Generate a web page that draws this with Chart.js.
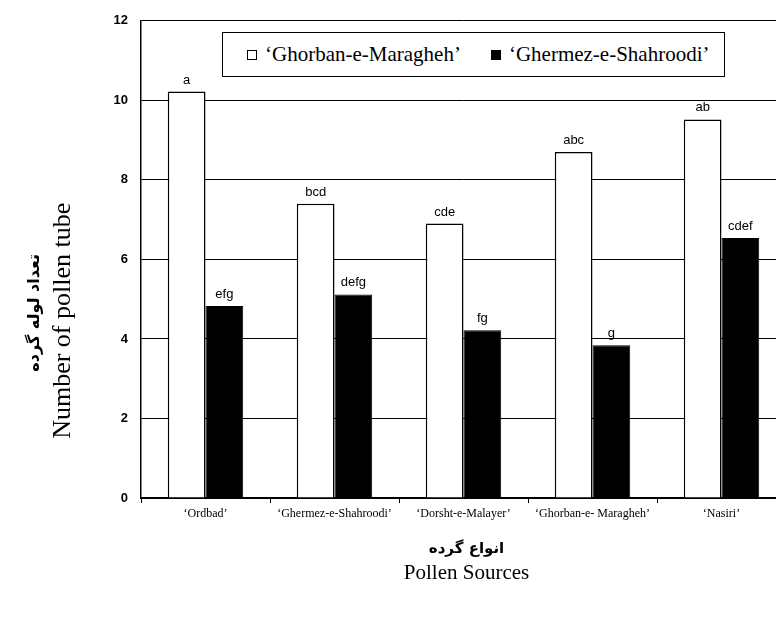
<!DOCTYPE html>
<html>
<head>
<meta charset="utf-8">
<script src="https://cdn.jsdelivr.net/npm/chart.js@4.4.0/dist/chart.umd.min.js"></script>
<style>
    html, body { margin: 0; padding: 0; background: #fff; overflow: hidden; }
    #wrap { position: relative; width: 776px; height: 617px; overflow: hidden; }
    #chart { position: absolute; left: 0; top: 0; }
    #legend {
        position: absolute; left: 222px; top: 32px; width: 477px; height: 43px;
        border: 1.5px solid #000; background: #fff;
        display: flex; align-items: center; padding-left: 24px; box-sizing: content-box;
        font-family: "Liberation Serif", "Times New Roman", serif; font-size: 21px; color: #000;
    }
    #legend .item { display: flex; align-items: center; margin-right: 30px; white-space: nowrap; }
    #legend .box { width: 8px; height: 8px; border: 1.5px solid #000; margin-right: 8px; }
</style>
</head>
<body>
<div id="wrap">
    <canvas id="chart" width="800" height="617"></canvas>
    <div id="legend"></div>
</div>
<script>
// Pollen tube counts per pollen source

const categories = ['\u2018Ordbad\u2019', '\u2018Ghermez-e-Shahroodi\u2019', '\u2018Dorsht-e-Malayer\u2019', '\u2018Ghorban-e- Maragheh\u2019', '\u2018Nasiri\u2019'];
const seriesNames = ['\u2018Ghorban-e-Maragheh\u2019', '\u2018Ghermez-e-Shahroodi\u2019'];
const ghorbanValues = [10.22, 7.40, 6.90, 8.70, 9.52];
const ghermezValues = [4.83, 5.12, 4.22, 3.84, 6.54];
const ghorbanLetters = ['a', 'bcd', 'cde', 'abc', 'ab'];
const ghermezLetters = ['efg', 'defg', 'fg', 'g', 'cdef'];
const yTicks = [0, 2, 4, 6, 8, 10, 12];
const yTitle = ['\u062A\u0639\u062F\u0627\u062F \u0644\u0648\u0644\u0647 \u06AF\u0631\u062F\u0647', 'Number of pollen tube'];
const xTitle = ['\u0627\u0646\u0648\u0627\u0639 \u06AF\u0631\u062F\u0647', 'Pollen Sources'];

const letters = [ghorbanLetters, ghermezLetters];

// Letters of significance above each bar
const letterPlugin = {
    id: 'letters',
    afterDatasetsDraw(chart) {
        const ctx = chart.ctx;
        ctx.save();
        ctx.fillStyle = '#000';
        ctx.font = '13px "Liberation Sans", Arial, sans-serif';
        ctx.textAlign = 'center';
        ctx.textBaseline = 'bottom';
        chart.data.datasets.forEach((ds, i) => {
            chart.getDatasetMeta(i).data.forEach((bar, j) => {
                ctx.fillText(letters[i][j], bar.x, bar.y - 5);
            });
        });
        ctx.restore();
    }
};

// Two-line axis titles (Persian + English)
const axisTitlePlugin = {
    id: 'axisTitles',
    afterDraw(chart) {
        const ctx = chart.ctx;
        const area = chart.chartArea;
        ctx.save();
        ctx.fillStyle = '#000';
        ctx.textAlign = 'center';
        ctx.textBaseline = 'middle';

        // y title, rotated
        ctx.save();
        ctx.translate(area.left - 106, area.top + 292);
        ctx.rotate(-Math.PI / 2);
        ctx.font = 'bold 16px "DejaVu Sans", sans-serif';
        ctx.fillText(yTitle[0], 0, 0);
        ctx.restore();
        ctx.save();
        ctx.translate(area.left - 78, area.top + 300);
        ctx.rotate(-Math.PI / 2);
        ctx.font = '26px "Liberation Serif", "Times New Roman", serif';
        ctx.fillText(yTitle[1], 0, 0);
        ctx.restore();

        // x title
        const cx = (area.left + area.right) / 2;
        ctx.font = 'bold 15px "DejaVu Sans", sans-serif';
        ctx.fillText(xTitle[0], cx + 3, area.bottom + 51);
        ctx.font = '21px "Liberation Serif", "Times New Roman", serif';
        ctx.fillText(xTitle[1], cx + 3, area.bottom + 75);
        ctx.restore();
    }
};

function buildLegend() {
    const legend = document.getElementById('legend');
    const fills = ['#fff', '#000'];
    legend.innerHTML = seriesNames.map((name, i) => `
        <span class="item"><span class="box" style="background:${fills[i]}"></span>${name}</span>
    `).join('');
}

function drawChart() {
    const ctx = document.getElementById('chart');
    new Chart(ctx, {
        type: 'bar',
        data: {
            labels: categories,
            datasets: [{
                label: seriesNames[0],
                data: ghorbanValues,
                backgroundColor: '#fff',
                borderColor: '#000',
                borderWidth: 1.5
            }, {
                label: seriesNames[1],
                data: ghermezValues,
                backgroundColor: '#000',
                borderColor: '#000',
                borderWidth: 1
            }]
        },
        options: {
            responsive: false,
            animation: false,
            layout: { padding: { top: 20, right: 14, left: 0, bottom: 0 } },
            datasets: {
                bar: { categoryPercentage: 0.585, barPercentage: 1 }
            },
            plugins: {
                legend: { display: false },
                tooltip: { enabled: false }
            },
            scales: {
                x: {
                    afterFit: (scale) => { scale.height = 119; },
                    grid: {
                        offset: true,
                        drawOnChartArea: false,
                        drawTicks: true,
                        tickLength: 5,
                        color: '#000'
                    },
                    border: { color: '#000', width: 1.5 },
                    ticks: {
                        color: '#000',
                        padding: 4,
                        maxRotation: 0,
                        autoSkip: false,
                        font: { family: '"Liberation Serif", "Times New Roman", serif', size: 12 }
                    }
                },
                y: {
                    min: 0,
                    max: 12,
                    afterFit: (scale) => { scale.width = 141; },
                    afterBuildTicks: (scale) => { scale.ticks = yTicks.map(v => ({ value: v })); },
                    grid: { color: '#000', lineWidth: 1, drawTicks: false },
                    border: { color: '#000', width: 1.5 },
                    ticks: {
                        color: '#000',
                        padding: 13,
                        font: { family: '"Liberation Sans", Arial, sans-serif', size: 13, weight: 'bold' }
                    }
                }
            }
        },
        plugins: [letterPlugin, axisTitlePlugin]
    });
}

document.addEventListener('DOMContentLoaded', () => {
    buildLegend();
    drawChart();
});
</script>
</body>
</html>
